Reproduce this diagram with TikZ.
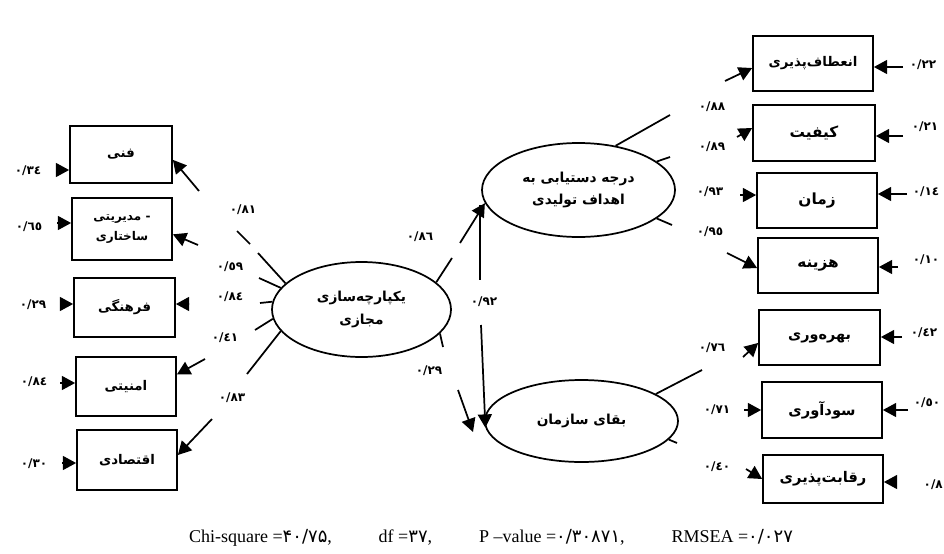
\documentclass[tikz,border=0pt]{standalone}
\usepackage{fontspec}
\setmainfont{Liberation Serif}
\newfontfamily\fa[Script=Arabic]{DejaVu Sans}
\TeXXeTstate=1
\usetikzlibrary{shapes.geometric,arrows.meta}
\newcommand\rtltxt[1]{{\fa\bfseries\beginR #1\endR}}
\newcommand\fanum[1]{{\fa #1}}
\begin{document}
\begin{tikzpicture}[x=0.75pt,y=-0.75pt,
  box/.style={draw, line width=1.3pt, inner sep=0pt, align=center, font=\fontsize{10}{15}\selectfont},
  bigbox/.style={box, font=\fontsize{11.5}{15}\selectfont},
  lat/.style={draw, ellipse, line width=1.3pt, inner sep=0pt, align=center, font=\fontsize{10.3}{17}\selectfont},
  con/.style={line width=1.3pt},
  arr/.style={line width=1.3pt, -{Triangle[length=10pt,width=10.5pt]}},
  lab/.style={font=\fa\bfseries\fontsize{9}{10}\selectfont, inner sep=0pt},
  fitlab/.style={font=\fontsize{13.5}{15}\selectfont, inner sep=0pt}
]
\useasboundingbox (0,0) rectangle (944,553);

% ---------- left indicator boxes ----------
\node[box, minimum width=76.5pt, minimum height=42.75pt] (fani) at (121,154.5) {\rtltxt{فنی}};
\node[box, minimum width=75pt, minimum height=46.5pt, font=\fontsize{9}{15}\selectfont] (modir) at (122,229) {\rtltxt{- مدیریتی}\\\rtltxt{ساختاری}};
\node[box, minimum width=75.75pt, minimum height=44.25pt] (farhang) at (124.5,307.5) {\rtltxt{فرهنگی}};
\node[box, minimum width=75pt, minimum height=44.25pt] (amniat) at (126,386.5) {\rtltxt{امنیتی}};
\node[box, minimum width=75pt, minimum height=45pt] (eghtesad) at (127,460) {\rtltxt{اقتصادی}};

% ---------- latent variables ----------
\node[lat, minimum width=134.25pt, minimum height=71.25pt] (E1) at (361.5,309.5) {\rtltxt{یکپارچه^^^^200cسازی}\\\rtltxt{مجازی}};
\node[lat, minimum width=144.75pt, minimum height=70.5pt] (E2) at (578.5,190) {\rtltxt{درجه دستیابی به}\\\rtltxt{اهداف تولیدی}};
\node[lat, minimum width=144.75pt, minimum height=61.5pt] (E3) at (581.5,421) {\rtltxt{بقای سازمان}};

% ---------- right indicator boxes ----------
\node[box, minimum width=90pt, minimum height=41.25pt, font=\fontsize{10}{15}\selectfont] (enetaf) at (813,63.5) {\rtltxt{انعطاف^^^^200cپذیری}};
\node[bigbox, minimum width=91.5pt, minimum height=42pt] (keyfiat) at (814,133) {\rtltxt{کیفیت}};
\node[bigbox, minimum width=90pt, minimum height=41.25pt] (zaman) at (817,200.5) {\rtltxt{زمان}};
\node[bigbox, minimum width=90pt, minimum height=41.25pt] (hazine) at (818,265.5) {\rtltxt{هزینه}};
\node[bigbox, minimum width=90.75pt, minimum height=41.25pt, font=\fontsize{10.8}{15}\selectfont] (bahre) at (819.5,337.5) {\rtltxt{بهره^^^^200cوری}};
\node[bigbox, minimum width=90pt, minimum height=42pt, font=\fontsize{11}{15}\selectfont] (sood) at (822,410) {\rtltxt{سودآوری}};
\node[bigbox, minimum width=90pt, minimum height=36pt, font=\fontsize{11}{15}\selectfont] (raghabat) at (823,479) {\rtltxt{رقابت^^^^200cپذیری}};

% ---------- left error terms ----------
\coordinate (ef1) at (57,170);
\coordinate (ef2) at (57,223);
\coordinate (ef3) at (60,304);
\coordinate (ef4) at (60,383);
\coordinate (ef5) at (62,463);
\draw[arr] (ef1) -- (ef1 -| fani.west);
\draw[arr] (ef2) -- (ef2 -| modir.west);
\draw[arr] (ef3) -- (ef3 -| farhang.west);
\draw[arr] (ef4) -- (ef4 -| amniat.west);
\draw[arr] (ef5) -- (ef5 -| eghtesad.west);
\node[lab] (le1) at (28,171) {٠/٣٤};
\node[lab] (le2) at (29,227) {٠/٦٥};
\node[lab] (le3) at (33,305) {٠/٢٩};
\node[lab] (le4) at (34,382) {٠/٨٤};
\node[lab] (le5) at (34,464) {٠/٣٠};

% ---------- left loadings (broken lines) ----------
\coordinate (a1) at (258,253); \coordinate (a2) at (250,244);
\coordinate (a3) at (237,231); \coordinate (a4) at (199,191);
\draw[con] (E1.161) -- (a1);
\draw[con] (a2) -- (a3);
\draw[arr] (a4) -- ([yshift=-4pt]fani.east);

\coordinate (b1) at (259,278); \coordinate (b2) at (198,245);
\draw[con] (E1.165) -- (b1);
\draw[arr] (b2) -- ([yshift=-4pt]modir.east);

\coordinate (c1) at (260,303); \coordinate (c2) at (189,304);
\draw[con] (E1.175) -- (c1);
\draw[arr] (c2) -- ([yshift=2.6pt]farhang.east);

\coordinate (d1) at (255,330); \coordinate (d2) at (205,359);
\draw[con] (E1.186) -- (d1);
\draw[arr] (d2) -- ([yshift=9pt]amniat.east);

\coordinate (f1) at (247,374); \coordinate (f2) at (212,419);
\draw[con] (E1.195) -- (f1);
\draw[arr] (f2) -- ([yshift=3.75pt]eghtesad.east);

\node[lab] (l81) at (243,210) {٠/٨١};
\node[lab] (l59) at (230,267) {٠/٥٩};
\node[lab] (l84) at (230,297) {٠/٨٤};
\node[lab] (l41) at (225,338) {٠/٤١};
\node[lab] (l83) at (232,398) {٠/٨٣};

% ---------- structural paths ----------
\coordinate (s1) at (452,258); \coordinate (s2) at (460,243);
\draw[con] (E1.20) -- (s1);
\draw[arr] (s2) -- (E2.188);

\coordinate (g1) at (480,205); \coordinate (g2) at (480,280); \coordinate (g3) at (481,325);
\draw[con] (g1) -- (g2);
\draw[arr] (g3) -- (E3.184);

\coordinate (h1) at (443,347); \coordinate (h2) at (458,390); \coordinate (t29) at (473,432);
\draw[con] (E1.-17) -- (h1);
\draw[arr] (h2) -- (t29);

\node[lab] (l86) at (420,237) {٠/٨٦};
\node[lab] (l92) at (484,302) {٠/٩٢};
\node[lab] (l29) at (429,371) {٠/٢٩};

% ---------- right loadings ----------
\coordinate (p1) at (670,115); \coordinate (p2) at (725,81);
\draw[con] (E2.50) -- (p1);
\draw[arr] (p2) -- ([yshift=-3.4pt]enetaf.west);

\coordinate (q1) at (670,157); \coordinate (q2) at (737,137);
\draw[con] (E2.20) -- (q1);
\draw[arr] (q2) -- ([yshift=3.75pt]keyfiat.west);

\coordinate (r2) at (740,195);
\draw[arr] (r2) -- ([yshift=4.1pt]zaman.west);

\coordinate (u1) at (672,225); \coordinate (u2) at (727,253);
\draw[con] (E2.-20) -- (u1);
\draw[arr] (u2) -- ([yshift=-1.9pt]hazine.west);

\coordinate (v1) at (702,370); \coordinate (v2) at (743,357);
\draw[con] (E3.20) -- (v1);
\draw[arr] (v2) -- ([yshift=-4.1pt]bahre.west);

\coordinate (w2) at (744,410);
\draw[arr] (w2) -- (sood.west);

\coordinate (z1) at (677,443); \coordinate (z2) at (746,469);
\draw[con] (E3.-12) -- (z1);
\draw[arr] (z2) -- (raghabat.west);

\node[lab] (l88) at (712,107) {٠/٨٨};
\node[lab] (l89) at (712,147) {٠/٨٩};
\node[lab] (l93) at (710,192) {٠/٩٣};
\node[lab] (l95) at (710,232) {٠/٩٥};
\node[lab] (l76) at (712,348) {٠/٧٦};
\node[lab] (l71) at (717,410) {٠/٧١};
\node[lab] (l40) at (717,467) {٠/٤٠};

% ---------- right error terms ----------
\coordinate (er1) at (903,67);
\coordinate (er2) at (903,136);
\coordinate (er3) at (907,194);
\coordinate (er4) at (898,267);
\coordinate (er5) at (902,337);
\coordinate (er6) at (908,410);
\coordinate (er7) at (895,482);
\draw[arr] (er1) -- (er1 -| enetaf.east);
\draw[arr] (er2) -- (er2 -| keyfiat.east);
\draw[arr] (er3) -- (er3 -| zaman.east);
\draw[arr] (er4) -- (er4 -| hazine.east);
\draw[arr] (er5) -- (er5 -| bahre.east);
\draw[arr] (er6) -- (er6 -| sood.east);
\draw[arr] (er7) -- (er7 -| raghabat.east);
\node[lab] (re1) at (923,65) {٠/٢٢};
\node[lab] (re2) at (925,127) {٠/٢١};
\node[lab] (re3) at (926,192) {٠/١٤};
\node[lab] (re4) at (926,260) {٠/١٠};
\node[lab] (re5) at (924,333) {٠/٤٢};
\node[lab] (re6) at (927,403) {٠/٥٠};
\node[lab, anchor=east] (re7) at (943,485) {٠/٨};

% ---------- fit statistics ----------
\node[fitlab] (fit) at (491,538) {Chi-square =\fanum{۴۰/۷۵},\hspace{2.6em}df =\fanum{۳۷},\hspace{2.6em}P –value =\fanum{۰/۳۰۸۷۱},\hspace{2.6em}RMSEA =\fanum{۰/۰۲۷}};
\end{tikzpicture}
\end{document}
